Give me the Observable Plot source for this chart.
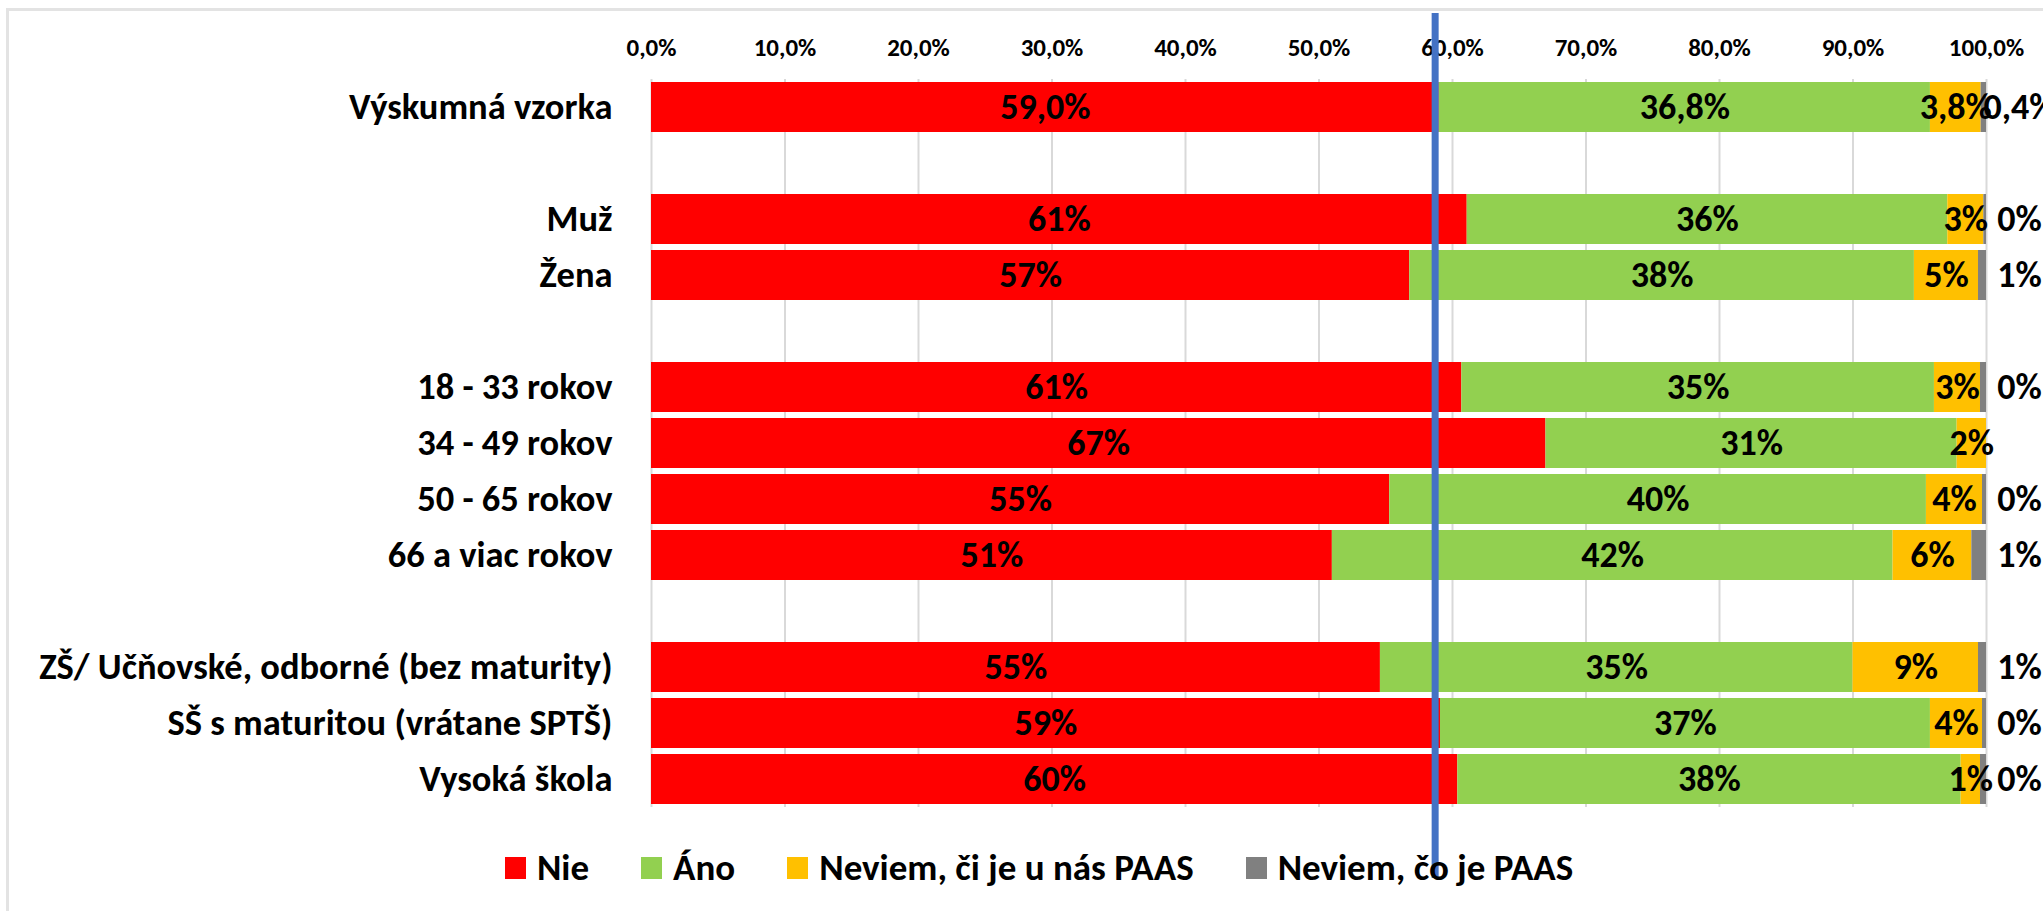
<!DOCTYPE html>
<html>
<head>
<meta charset="utf-8">
<script src="https://cdn.jsdelivr.net/npm/d3@7"></script>
<script src="https://cdn.jsdelivr.net/npm/@observablehq/plot@0.6"></script>
<style>
  html, body { margin: 0; padding: 0; background: #fff; overflow: hidden; }
  #wrap { position: relative; width: 2043px; height: 911px; font-family: Carlito, Calibri, Lato, sans-serif; }
  #frame { position: absolute; left: 6px; top: 8px; right: -10px; bottom: -10px; border-left: 3px solid #e3e3e3; border-top: 3px solid #e3e3e3; }
  #legend { position: absolute; left: 505px; top: 845px; display: flex; gap: 52px; font-weight: bold; font-size: 37px; color: #000; }
  #legend .item { display: flex; align-items: center; gap: 11px; }
  #legend .sw { width: 21px; height: 22px; display: inline-block; }
</style>
</head>
<body>
<div id="wrap"><div id="frame"></div></div>
<script>
// ---- data ----
const categories = [
  "Výskumná vzorka", " ",
  "Muž", "Žena", "  ",
  "18 - 33 rokov", "34 - 49 rokov", "50 - 65 rokov", "66 a viac rokov", "   ",
  "ZŠ/ Učňovské, odborné (bez maturity)", "SŠ s maturitou (vrátane SPTŠ)", "Vysoká škola"
];
const series = ["Nie", "Áno", "Neviem, či je u nás PAAS", "Neviem, čo je PAAS"];
const colors = ["#FF0000", "#92D050", "#FFC000", "#808080"];
const nie        = [59.0, null, 61.1, 56.8, null, 60.7, 67.0, 55.3, 51.0, null, 54.6, 59.1, 60.4];
const ano        = [36.8, null, 36.0, 37.8, null, 35.4, 30.8, 40.2, 42.0, null, 35.4, 36.7, 37.7];
const neviemCi   = [3.8,  null, 2.7,  4.8,  null, 3.45, 2.2,  4.2,  5.9,  null, 9.4,  3.9,  1.45];
const neviemCo   = [0.4,  null, 0.2,  0.6,  null, 0.45, 0.0,  0.3,  1.1,  null, 0.6,  0.3,  0.45];
const decimals   = [1,    0,    0,    0,    0,    0,    0,    0,    0,    0,    0,    0,    0];
const xTicks = [0, 10, 20, 30, 40, 50, 60, 70, 80, 90, 100];
const referenceLine = 58.7;

// ---- table ----
const columns = [nie, ano, neviemCi, neviemCo];
const table = [];
categories.forEach((c, i) => {
  if (nie[i] == null) return;
  series.forEach((s, j) => {
    const v = columns[j][i];
    table.push({
      category: c, series: s, value: v,
      label: v.toFixed(decimals[i]).replace(".", ",") + "%"
    });
  });
});

const font = "Carlito, Calibri, Lato, sans-serif";
const outer = table.filter(d => d.series === series[3] && d.value > 0);

const chart = Plot.plot({
  width: 2043,
  height: 911,
  marginLeft: 651,
  marginRight: 57,
  marginTop: 79,
  marginBottom: 104,
  style: { fontFamily: font, background: "transparent", overflow: "visible" },
  x: { domain: [0, 100] },
  y: { domain: categories, paddingInner: 0.116, paddingOuter: 0.058 },
  color: { domain: series, range: colors },
  marks: [
    Plot.gridX(xTicks, { stroke: "#d9d9d9", strokeOpacity: 1, strokeWidth: 2 }),
    Plot.axisX({
      anchor: "top", ticks: xTicks, tickSize: 0, tickPadding: 24, label: null,
      tickFormat: d => d.toFixed(1).replace(".", ",") + "%",
      fontSize: 25, fontWeight: "bold", fill: "#000"
    }),
    Plot.axisY({
      anchor: "left", tickSize: 0, tickPadding: 39, label: null,
      fontSize: 36.5, fontWeight: "bold", fill: "#000"
    }),
    Plot.barX(table, { x: "value", y: "category", fill: "series", z: "series", order: series }),
    Plot.text(table, Plot.stackX({
      x: "value", y: "category", z: "series", order: series,
      text: d => (d.series === series[3] ? null : d.label),
      fontSize: 36, fontWeight: "bold", fill: "#000"
    })),
    Plot.text(outer, {
      x: () => 100, y: "category", text: "label", dx: 33, textAnchor: "middle",
      fontSize: 36, fontWeight: "bold", fill: "#000"
    }),
    Plot.ruleX([referenceLine], { stroke: "#4472C4", strokeWidth: 7, insetTop: -66, insetBottom: -71 })
  ]
});

const wrap = document.getElementById("wrap");
chart.style.position = "absolute";
chart.style.left = "0px";
chart.style.top = "0px";
wrap.appendChild(chart);

const legend = document.createElement("div");
legend.id = "legend";
series.forEach((s, i) => {
  const item = document.createElement("div");
  item.className = "item";
  const sw = document.createElement("span");
  sw.className = "sw";
  sw.style.background = colors[i];
  const t = document.createElement("span");
  t.textContent = s;
  item.appendChild(sw);
  item.appendChild(t);
  legend.appendChild(item);
});
wrap.appendChild(legend);
</script>
</body>
</html>
